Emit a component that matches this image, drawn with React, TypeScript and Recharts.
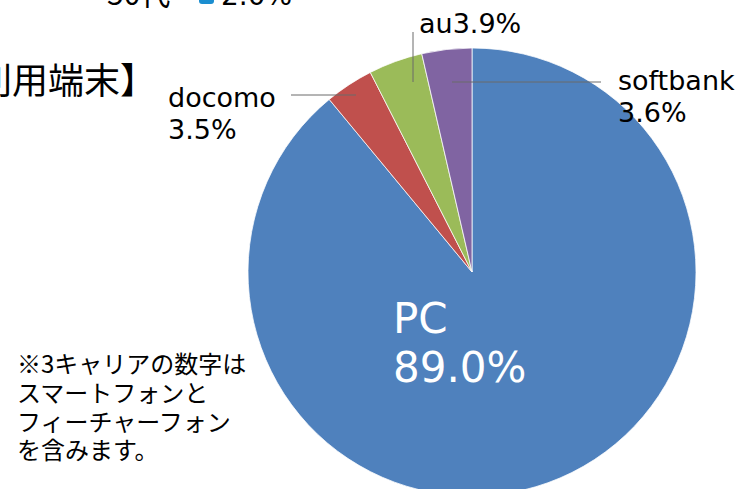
import React from 'react';
import { PieChart, Pie, Cell } from 'recharts';

// 利用端末の内訳 (%)
const devices = ['PC', 'docomo', 'au', 'softbank'];
const shares = [89.0, 3.5, 3.9, 3.6];
const colors = ['#4F81BD', '#C0504D', '#9BBB59', '#8064A2'];
const noteLines = ['※3キャリアの数字は', 'スマートフォンと', 'フィーチャーフォン', 'を含みます。'];

const data = devices.map((name, i) => ({ name, value: shares[i] }));

// label placement relative to the pie centre
const labelLayout: Record<string, any> = {
    PC: { x: -79, y: 61, gap: 49, size: 42, fill: '#fff', split: true },
    docomo: { x: -304, y: -165, gap: 32, size: 27, fill: '#000', split: true, line: [[-181, -177], [-116, -177]] },
    au: { x: -53, y: -239, gap: 0, size: 27, fill: '#000', split: false, line: [[-59, -240], [-59, -190]] },
    softbank: { x: 146, y: -182, gap: 32, size: 27, fill: '#000', split: true, line: [[129, -190], [-20, -190]] },
};

const renderLabel = (props: any) => {
    const { cx, cy, name, value } = props;
    const l = labelLayout[name];
    const pct = `${value.toFixed(1)}%`;
    return (
        <g key={`lbl-${name}`}>
            {l.line && (
                <line
                    x1={cx + l.line[0][0]}
                    y1={cy + l.line[0][1]}
                    x2={cx + l.line[1][0]}
                    y2={cy + l.line[1][1]}
                    stroke="#6b6b6b"
                    strokeWidth={1}
                />
            )}
            {l.split ? (
                <>
                    <text x={cx + l.x} y={cy + l.y} fill={l.fill} fontSize={l.size} fontFamily="DejaVu Sans">{name}</text>
                    <text x={cx + l.x} y={cy + l.y + l.gap} fill={l.fill} fontSize={l.size} fontFamily="DejaVu Sans">{pct}</text>
                </>
            ) : (
                <text x={cx + l.x} y={cy + l.y} fill={l.fill} fontSize={l.size} fontFamily="DejaVu Sans">
                    {name + pct}
                </text>
            )}
        </g>
    );
};

const App: React.FC = () => {
    return (
        <div style={{ position: 'absolute', left: 0, top: 0, width: 738, height: 489, background: '#fff' }}>
            <PieChart width={738} height={489} margin={{ top: 0, right: 0, bottom: 0, left: 0 }}>
                <text x={107} y={5} fontSize={30} fontFamily="Noto Sans CJK JP" fill="#000">50代</text>
                <rect x={199} y={-11} width={15} height={15} rx={3} fill="#1B8ED0" />
                <text x={221} y={5} fontSize={28} fontFamily="DejaVu Sans" fill="#000">2.0%</text>
                <text x={-60} y={94} fontSize={36} fontFamily="Noto Sans CJK JP" fill="#000">【利用端末】</text>
                {noteLines.map((t, i) => (
                    <text key={t} x={17} y={373 + i * 28.8} fontSize={24} fontFamily="Noto Sans CJK JP" fill="#000">{t}</text>
                ))}
                <Pie
                    data={data}
                    dataKey="value"
                    nameKey="name"
                    cx={472}
                    cy={272}
                    outerRadius={224}
                    startAngle={90}
                    endAngle={-270}
                    stroke="#fff"
                    strokeWidth={0.75}
                    label={renderLabel}
                    labelLine={false}
                    isAnimationActive={false}
                >
                    {data.map((entry, index) => (
                        <Cell key={`cell-${index}`} fill={colors[index]} />
                    ))}
                </Pie>
            </PieChart>
        </div>
    );
};

export default App;
